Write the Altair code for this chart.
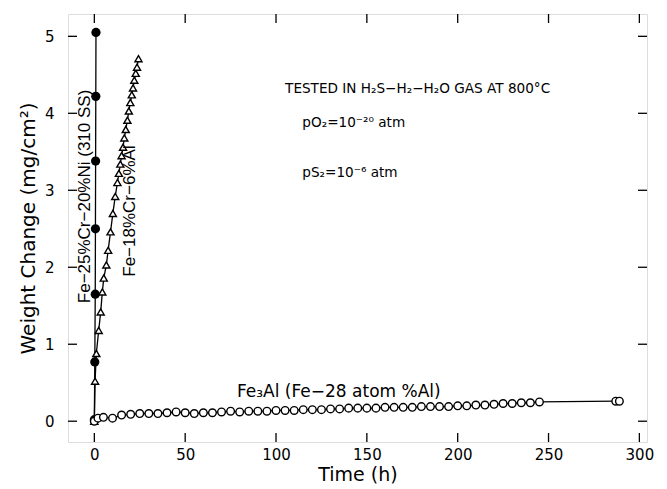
import altair as alt
import pandas as pd

# Fe-25%Cr-20%Ni (310 SS)
ss_t = [0.0, 0.25, 0.5, 0.6, 0.7, 0.8, 0.9]
ss_w = [0.02, 0.77, 1.65, 2.50, 3.38, 4.22, 5.05]

# Fe-18%Cr-6%Al
al_t = [0.0, 0.4, 1.1, 2.4, 3.5, 4.4, 5.2, 6.6, 7.6, 8.9, 10.2, 11.5, 12.7, 13.5, 14.3,
        15.0, 15.8, 16.5, 17.3, 18.2, 19.0, 19.8, 20.6, 21.3, 22.0, 22.8, 23.5, 24.3]
al_w = [0.0, 0.52, 0.88, 1.18, 1.42, 1.68, 1.86, 2.03, 2.22, 2.46, 2.70, 2.92, 3.10, 3.22, 3.34,
        3.45, 3.56, 3.68, 3.79, 3.91, 4.03, 4.14, 4.24, 4.33, 4.43, 4.52, 4.60, 4.71]

# Fe3Al (Fe-28 atom %Al)
fa_t = [0, 2, 5, 10, 15, 20, 25, 30, 35, 40, 45, 50, 55, 60, 65, 70, 75, 80, 85, 90, 95,
        100, 105, 110, 115, 120, 125, 130, 135, 140, 145, 150, 155, 160, 165, 170, 175,
        180, 185, 190, 195, 200, 205, 210, 215, 220, 225, 230, 235, 240, 245, 287, 289]
fa_w = [0.00, 0.04, 0.05, 0.04, 0.08, 0.09, 0.10, 0.10, 0.10, 0.11, 0.12, 0.11, 0.10, 0.11,
        0.11, 0.12, 0.13, 0.12, 0.13, 0.13, 0.13, 0.14, 0.14, 0.14, 0.15, 0.15, 0.15, 0.16,
        0.16, 0.17, 0.17, 0.17, 0.17, 0.18, 0.18, 0.18, 0.18, 0.19, 0.19, 0.19, 0.19, 0.20,
        0.20, 0.21, 0.21, 0.22, 0.23, 0.23, 0.24, 0.24, 0.25, 0.26, 0.26]

x_ticks = [0, 50, 100, 150, 200, 250, 300]
y_ticks = [0, 1, 2, 3, 4, 5]

ann_text = ["TESTED IN H₂S−H₂−H₂O GAS AT 800°C", "pO₂=10⁻²⁰ atm", "pS₂=10⁻⁶ atm"]
ann_x = [105, 114.5, 114.5]
ann_y = [4.32, 3.88, 3.22]

fe3_text = ["Fe₃Al (Fe−28 atom %Al)"]
fe3_x = [78.5]
fe3_y = [0.38]

rot_text = ["Fe−25%Cr−20%Ni (310 SS)", "Fe−18%Cr−6%Al"]
rot_x = [-5.3, 19.8]
rot_y = [2.92, 2.73]

FONT = "Liberation Sans, DejaVu Sans"
WIDE = "DejaVu Sans"
W, H = 579, 428
XMIN, XMAX = -14.5, 304.2
YMIN, YMAX = -0.27, 5.29
TICK_Y = 9 / H * (YMAX - YMIN)
TICK_X = 9 / W * (XMAX - XMIN)

xs = alt.Scale(domain=[XMIN, XMAX], nice=False, zero=False)
ys = alt.Scale(domain=[YMIN, YMAX], nice=False, zero=False)

xax = alt.Axis(values=x_ticks, format="d", ticks=False, domain=False, grid=False,
               labelFontSize=15, labelPadding=5, title="Time (h)", titleFontSize=19,
               titleFontWeight="normal", titlePadding=3, labelFont=WIDE, titleFont=WIDE,
               labelColor="black", titleColor="black")
yax = alt.Axis(values=y_ticks, format="d", ticks=False, domain=False, grid=False,
               labelFontSize=15, labelPadding=14, title="Weight Change (mg/cm²)", titleFontSize=20,
               titleFontWeight="normal", titlePadding=6, labelFont=WIDE, titleFont=WIDE,
               labelColor="black", titleColor="black")

ss = pd.DataFrame({"t": ss_t, "w": ss_w})
al = pd.DataFrame({"t": al_t, "w": al_w})
fa = pd.DataFrame({"t": fa_t, "w": fa_w})

X = alt.X("t:Q", scale=xs, axis=xax)
Y = alt.Y("w:Q", scale=ys, axis=yax)

layers = []
for df in (ss, al, fa):
    layers.append(alt.Chart(df).mark_line(color="black", strokeWidth=1.3).encode(x=X, y=Y))

layers.append(alt.Chart(ss).mark_point(shape="circle", filled=True, color="black", size=85,
                                       opacity=1).encode(x=X, y=Y))
layers.append(alt.Chart(al).mark_point(shape="triangle-up", filled=True, fill="white",
                                       stroke="black", strokeWidth=1.4, size=50,
                                       opacity=1).encode(x=X, y=Y))
layers.append(alt.Chart(fa).mark_point(shape="circle", filled=True, fill="white",
                                       stroke="black", strokeWidth=1.4, size=58,
                                       opacity=1).encode(x=X, y=Y))

# inward ticks (bottom/top along x, left/right along y)
xt_bot = pd.DataFrame({"t": x_ticks, "a": [YMIN] * len(x_ticks), "b": [YMIN + TICK_Y] * len(x_ticks)})
xt_top = pd.DataFrame({"t": x_ticks, "a": [YMAX] * len(x_ticks), "b": [YMAX - TICK_Y] * len(x_ticks)})
yt_l = pd.DataFrame({"w": y_ticks, "a": [XMIN] * len(y_ticks), "b": [XMIN + TICK_X] * len(y_ticks)})
yt_r = pd.DataFrame({"w": y_ticks, "a": [XMAX] * len(y_ticks), "b": [XMAX - TICK_X] * len(y_ticks)})
for df in (xt_bot, xt_top):
    layers.append(alt.Chart(df).mark_rule(color="black", strokeWidth=1.3).encode(
        x=X, y=alt.Y("a:Q", scale=ys, axis=yax), y2="b:Q"))
for df in (yt_l, yt_r):
    layers.append(alt.Chart(df).mark_rule(color="black", strokeWidth=1.3).encode(
        y=Y, x=alt.X("a:Q", scale=xs, axis=xax), x2="b:Q"))

ann = pd.DataFrame({"txt": ann_text, "t": ann_x, "w": ann_y})
layers.append(alt.Chart(ann).mark_text(align="left", baseline="middle", fontSize=13.6, font=WIDE,
                                       color="black").encode(x=X, y=Y, text="txt:N"))

fe3 = pd.DataFrame({"txt": fe3_text, "t": fe3_x, "w": fe3_y})
layers.append(alt.Chart(fe3).mark_text(align="left", baseline="middle", fontSize=17, font=WIDE,
                                       color="black").encode(x=X, y=Y, text="txt:N"))

rot = pd.DataFrame({"txt": rot_text, "t": rot_x, "w": rot_y})
layers.append(alt.Chart(rot).mark_text(align="center", baseline="middle", fontSize=17, font=FONT,
                                       angle=270, color="black").encode(x=X, y=Y, text="txt:N"))

chart = alt.layer(*layers).properties(
    width=W, height=H,
    autosize=alt.AutoSizeParams(type="none"),
    padding={"left": 68, "top": 14, "right": 20, "bottom": 47},
).configure_view(stroke="black", strokeWidth=1.5).configure(background="white")

chart.save("out.html", embed_options={"renderer": "svg", "actions": False})
